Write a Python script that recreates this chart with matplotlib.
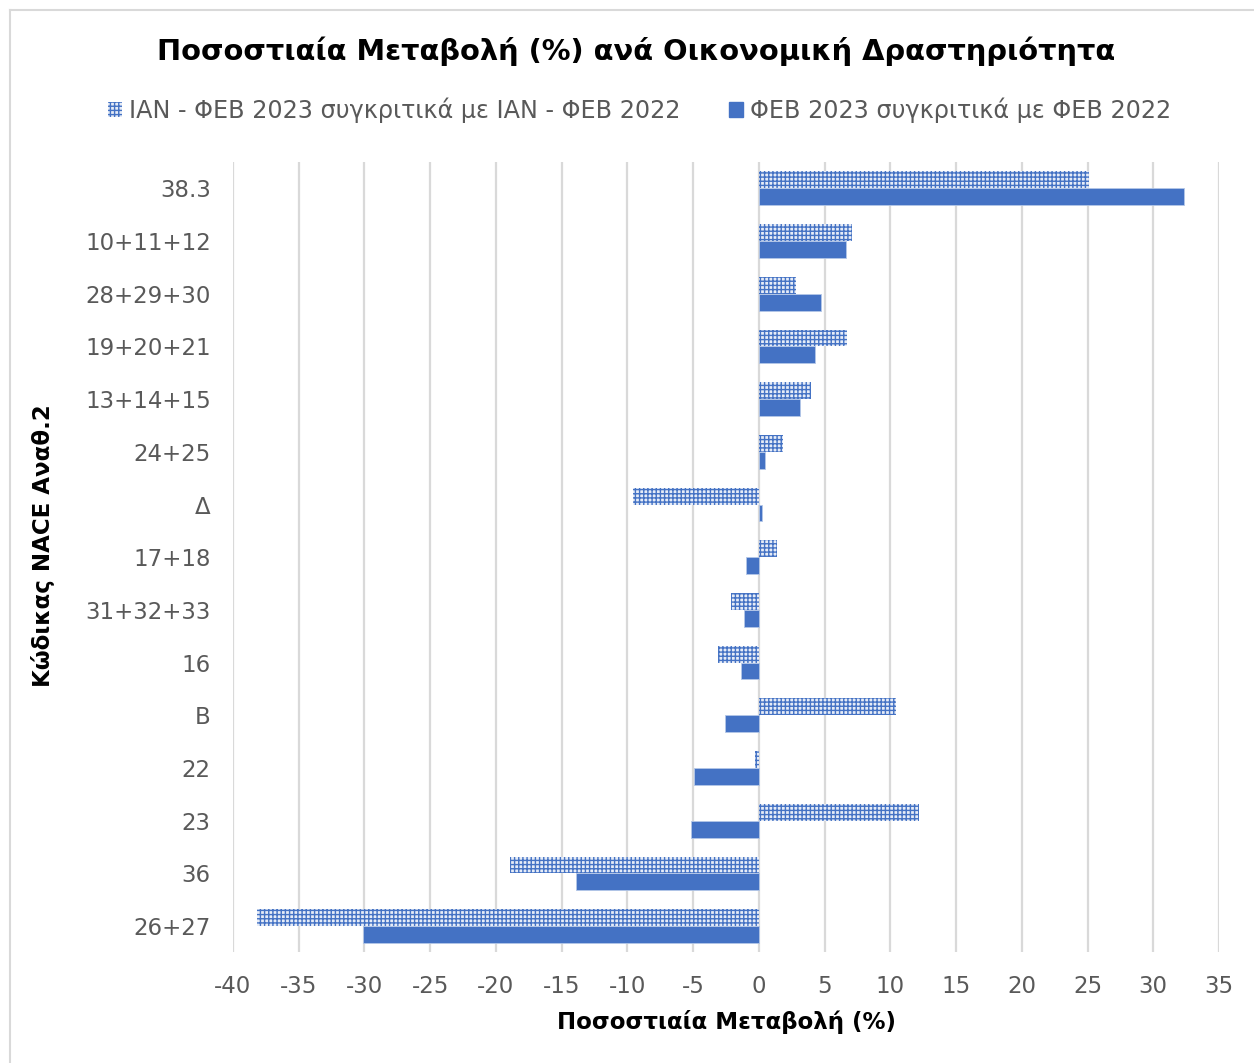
#!/usr/bin/env python3
"""Horizontal bar chart: percentage change by economic activity (NACE Rev.2)."""

import matplotlib as mpl

mpl.use("Agg")

import matplotlib.pyplot as plt
import numpy as np
from matplotlib.lines import Line2D
from matplotlib.patches import Patch

# categories top -> bottom
categories = [
    "38.3", "10+11+12", "28+29+30", "19+20+21", "13+14+15", "24+25", "Δ",
    "17+18", "31+32+33", "16", "B", "22", "23", "36", "26+27",
]
jan_feb = [25.1, 7.1, 2.8, 6.7, 4.0, 1.8, -9.6, 1.35, -2.1, -3.1, 10.4, -0.3, 12.2, -18.9, -38.2]
feb = [32.3, 6.6, 4.7, 4.3, 3.1, 0.45, 0.2, -0.95, -1.15, -1.35, -2.6, -4.9, -5.2, -13.9, -30.1]

label_jan_feb = "ΙΑΝ - ΦΕΒ 2023 συγκριτικά με ΙΑΝ - ΦΕΒ 2022"
label_feb = "ΦΕΒ 2023 συγκριτικά με ΦΕΒ 2022"
x_ticks = list(range(-40, 36, 5))

BLUE = "#4472C4"
GRID = "#d9d9d9"
TEXT = "#595959"
HATCH_FACE = "#e6ecf7"

plt.rcParams["font.family"] = ["DejaVu Sans"]
plt.rcParams["hatch.linewidth"] = 1.0

fig = plt.figure(figsize=(12.54, 10.63), dpi=100)
ax = fig.add_axes([0.1858, 0.1040, 0.7863, 0.7436])

y = np.arange(len(categories))
h = 0.32
ax.barh(y - h / 2, jan_feb, height=h, facecolor=HATCH_FACE, edgecolor=BLUE,
        hatch="++++", linewidth=0, zorder=3)
ax.barh(y + h / 2, feb, height=h, color=BLUE, edgecolor="#b4c7e7", linewidth=0.6, zorder=3)

ax.set_ylim(len(categories) - 0.5, -0.5)
ax.set_xlim(-40, 35)
ax.set_yticks(y, categories)
ax.set_xticks(x_ticks, [str(t) for t in x_ticks])
ax.tick_params(axis="both", length=0, labelsize=16.5, colors=TEXT)
ax.tick_params(axis="y", pad=16)
ax.tick_params(axis="x", pad=16)
ax.grid(axis="x", color=GRID, linewidth=1.6, zorder=0)
for spine in ax.spines.values():
    spine.set_visible(False)

ax.set_xlabel("Ποσοστιαία Μεταβολή (%)", fontsize=16.5, fontweight="bold", color="black", labelpad=9)
fig.text(0.034, 0.487, "Κώδικας NACE Αναθ.2", rotation=90, ha="center", va="center",
         fontsize=16.5, fontweight="bold")
fig.text(0.507, 0.952, "Ποσοστιαία Μεταβολή (%) ανά Οικονομική Δραστηριότητα",
         ha="center", va="center", fontsize=20.8, fontweight="bold")

handles = [
    Patch(facecolor=HATCH_FACE, edgecolor=BLUE, hatch="++++", linewidth=0),
    Patch(facecolor=BLUE, edgecolor=BLUE),
]
fig.legend(handles, [label_jan_feb, label_feb], loc="center", bbox_to_anchor=(0.51, 0.896),
           ncol=2, frameon=False, fontsize=17.2, labelcolor=TEXT, handlelength=0.6,
           handleheight=0.6, handletextpad=0.3, columnspacing=2.0)

# chart-area border (Excel style)
fig.add_artist(Line2D([0.008, 1.0], [0.991, 0.991], color=GRID, linewidth=1.5, transform=fig.transFigure))
fig.add_artist(Line2D([0.008, 0.008], [0.0, 0.991], color=GRID, linewidth=1.5, transform=fig.transFigure))

fig.savefig("out.png", dpi=100, facecolor="white")
plt.close(fig)
